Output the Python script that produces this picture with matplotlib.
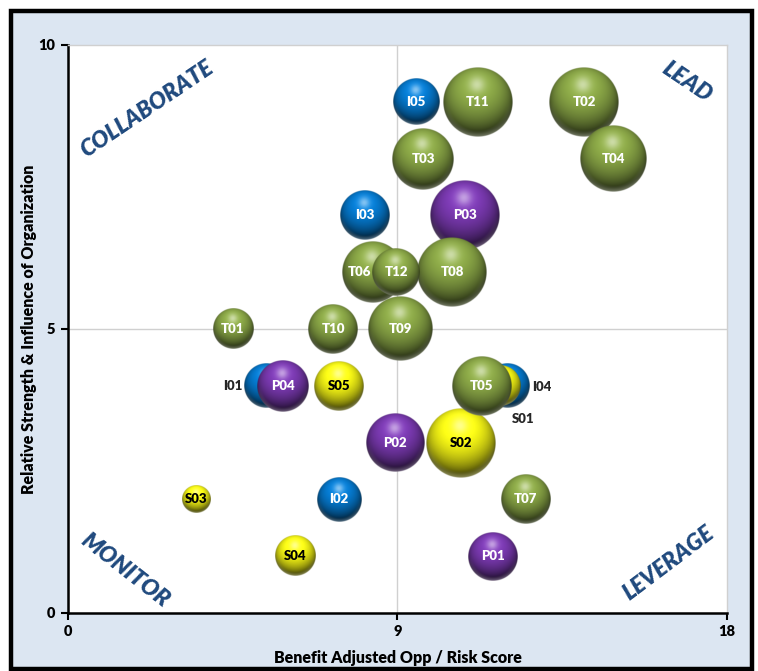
import numpy as np
import matplotlib
matplotlib.use("Agg")
import matplotlib.pyplot as plt
from matplotlib.patches import Rectangle

plt.rcParams['font.family'] = ['Lato', 'DejaVu Sans']

# series data: name, x, y, bubble size
i_names = ["I01", "I02", "I03", "I04", "I05"]
i_x = [5.4, 7.4, 8.1, 12.0, 9.5]
i_y = [4, 2, 7, 4, 9]
i_size = [4.0, 4.0, 5.0, 4.0, 4.4]

p_names = ["P01", "P02", "P03", "P04"]
p_x = [11.6, 8.93, 10.85, 5.87]
p_y = [1, 3, 7, 4]
p_size = [4.9, 6.9, 10.0, 5.5]

s_names = ["S01", "S02", "S03", "S04", "S05"]
s_x = [11.8, 10.74, 3.5, 6.2, 7.4]
s_y = [4, 3, 2, 1, 4]
s_size = [3.3, 10.0, 1.6, 3.3, 5.1]

t_names = ["T01", "T02", "T03", "T04", "T05", "T06",
           "T07", "T08", "T09", "T10", "T11", "T12"]
t_x = [4.5, 14.1, 9.7, 14.9, 11.3, 8.33, 12.5, 10.5, 9.07, 7.24, 11.2, 8.96]
t_y = [5, 9, 8, 8, 4, 6, 2, 6, 5, 5, 9, 6]
t_size = [3.3, 10.0, 7.8, 8.9, 7.3, 7.8, 5.1, 10.0, 8.4, 5.1, 10.0, 4.7]

series = [
    (i_names, i_x, i_y, i_size, (0.02, 0.47, 0.80), "white"),
    (p_names, p_x, p_y, p_size, (0.47, 0.22, 0.68), "white"),
    (s_names, s_x, s_y, s_size, (0.95, 0.95, 0.08), "black"),
    (t_names, t_x, t_y, t_size, (0.53, 0.64, 0.27), "white"),
]
# labels moved off the bubble centre (offset in points, colour)
moved = {"I01": (-24, 0, "#262626"), "I04": (25, -1, "#262626"),
         "S01": (17, -24, "#262626"), "T06": (-10, 0, "white")}

quad_text = ["COLLABORATE", "LEAD", "MONITOR", "LEVERAGE"]
quad_pos = [(2.16, 8.87), (16.9, 9.35), (1.55, 0.75), (16.4, 0.88)]
quad_rot = [34, -34, -38, 37]


def sphere(color, n=160):
    t = np.linspace(-1, 1, n)
    u, v = np.meshgrid(t, t)
    rr = np.sqrt(u**2 + v**2)
    z = np.sqrt(np.clip(1 - rr**2, 0, 1))
    lx, ly, lz = -0.05, 0.5, 0.86
    nrm = np.sqrt(lx**2 + ly**2 + lz**2)
    diff = np.clip((u * lx + v * ly + z * lz) / nrm, 0, 1)
    shade = 0.33 + 0.8 * diff
    rgb = np.array(color)[None, None, :] * shade[..., None]
    spec = 0.5 * np.exp(-((u + 0.03)**2 + (v - 0.5)**2) / 0.05)
    rgb = rgb + (1 - rgb) * spec[..., None]
    rim = np.clip((rr - 0.82) / 0.18, 0, 1) * np.clip(-v, 0, 1) * 0.35
    rgb = rgb + (1 - rgb) * rim[..., None]
    alpha = np.clip((1 - rr) * n / 2, 0, 1)
    return np.dstack([np.clip(rgb, 0, 1), alpha])


fig = plt.figure(figsize=(7.58, 6.71), dpi=100)
fig.patches.append(Rectangle((11 / 758, 2 / 671), 741 / 758, 658 / 671,
                             transform=fig.transFigure, facecolor="#DCE6F2",
                             edgecolor="black", linewidth=3.2, zorder=-10))
ax = fig.add_axes([68 / 758, 58 / 671, 659 / 758, 568 / 671])
ax.set_facecolor("white")
ax.set_xlim(0, 18)
ax.set_ylim(0, 10)

ax.axvline(9, color="#D0D0D0", lw=1, zorder=0)
ax.axhline(5, color="#D0D0D0", lw=1, zorder=0)

sx = ax.transData.transform((1, 0))[0] - ax.transData.transform((0, 0))[0]
sy = ax.transData.transform((0, 1))[1] - ax.transData.transform((0, 0))[1]

z = 2
for names, xs, ys, sizes, col, tcol in series:
    img = sphere(col)
    for name, x, y, s in zip(names, xs, ys, sizes):
        r = 35 * np.sqrt(s / 10)
        ax.imshow(img, extent=[x - r / sx, x + r / sx, y - r / sy, y + r / sy],
                  origin="lower", interpolation="bilinear", aspect="auto", zorder=z)
        z += 1

for names, xs, ys, sizes, col, tcol in series:
    for name, x, y in zip(names, xs, ys):
        if name in moved:
            dx, dy, c = moved[name]
            ax.annotate(name, (x, y), xytext=(dx, dy), textcoords="offset points",
                        ha="center", va="center", fontsize=9.5, fontweight="heavy",
                        color=c, zorder=100)
        else:
            ax.text(x, y, name, ha="center", va="center", fontsize=9.5,
                    fontweight="heavy", color=tcol, zorder=100)

for txt, (qx, qy), rot in zip(quad_text, quad_pos, quad_rot):
    ax.text(qx, qy, txt, rotation=rot, ha="center", va="center", fontsize=16.5,
            fontweight="heavy", fontstyle="italic", color="#1F497D",
            rotation_mode="anchor", zorder=101)

ax.set_xlim(0, 18)
ax.set_ylim(0, 10)
ax.set_xticks([0, 9, 18])
ax.set_yticks([0, 5, 10])
ax.tick_params(direction="out", length=5, width=1.5, labelsize=10.5, pad=4)
for lab in ax.get_xticklabels() + ax.get_yticklabels():
    lab.set_fontweight("heavy")
for sp in ["left", "bottom"]:
    ax.spines[sp].set_linewidth(1.8)
    ax.spines[sp].set_color("black")
for sp in ["top", "right"]:
    ax.spines[sp].set_linewidth(1)
    ax.spines[sp].set_color("#D0D0D0")

ax.set_xlabel("Benefit Adjusted Opp / Risk Score", fontsize=11.5,
              fontweight="heavy", labelpad=8)
ax.set_ylabel("Relative Strength & Influence of Organization", fontsize=11.5,
              fontweight="heavy", labelpad=1)

fig.savefig("out.png", dpi=100)
